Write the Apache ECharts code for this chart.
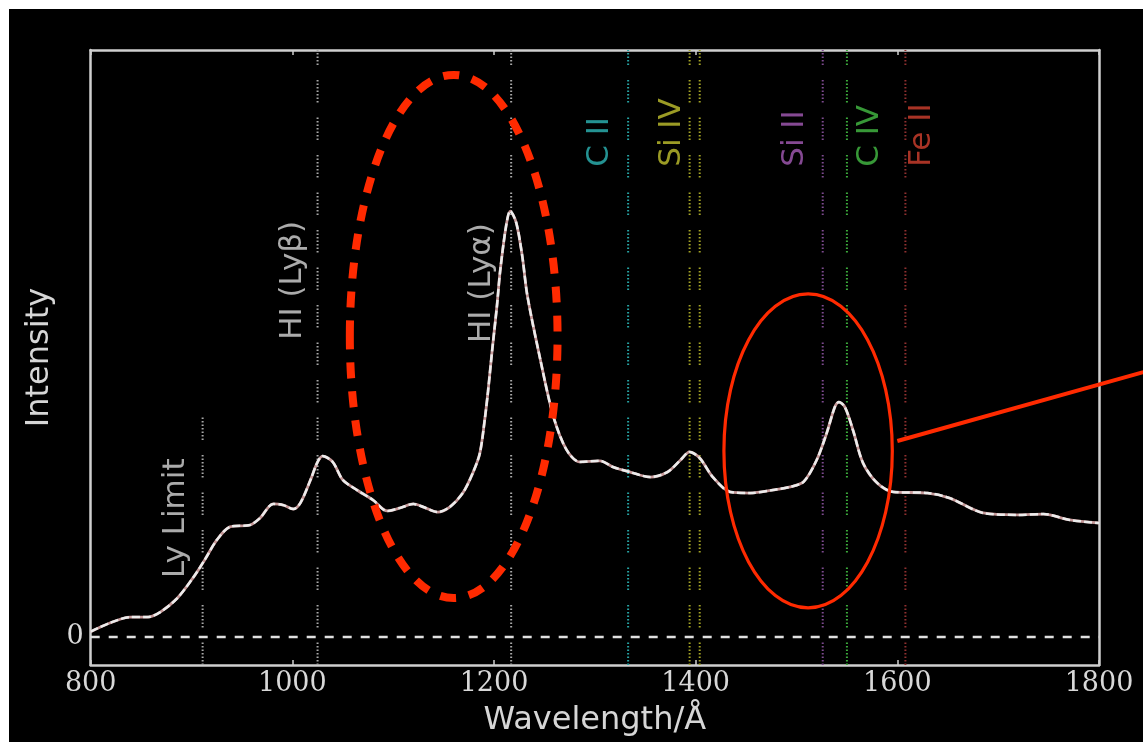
<!DOCTYPE html>
<html>
<head>
<meta charset="utf-8">
<script src="https://cdn.jsdelivr.net/npm/echarts@6/dist/echarts.min.js"></script>
<style>
  html, body { margin: 0; padding: 0; background: #ffffff; }
  #chart { position: absolute; left: 9px; top: 9px; width: 1134px; height: 733px; }
</style>
</head>
<body>
<div id="chart"></div>
<script>
// Composite quasar spectrum: rest wavelength (Å) and relative intensity
const wavelength = [800, 819, 839, 856, 869, 886, 902, 913, 925, 938, 958, 968, 981, 991, 1001, 1008,
  1018, 1025, 1030, 1040, 1050, 1064, 1080, 1094, 1107, 1120, 1130, 1144, 1156, 1169, 1179, 1186,
  1191, 1194, 1198, 1203, 1206, 1212, 1216, 1222, 1228, 1233, 1246, 1259, 1272, 1285, 1305, 1318,
  1335, 1355, 1372, 1385, 1394, 1404, 1417, 1434, 1454, 1477, 1494, 1507, 1520, 1530, 1538, 1542,
  1548, 1556, 1566, 1580, 1596, 1630, 1652, 1685, 1719, 1745, 1771, 1800];
const intensity = [0.019, 0.050, 0.071, 0.071, 0.089, 0.139, 0.214, 0.275, 0.346, 0.393, 0.400, 0.425,
  0.475, 0.471, 0.457, 0.479, 0.561, 0.625, 0.646, 0.625, 0.561, 0.525, 0.489, 0.450, 0.461, 0.475,
  0.464, 0.446, 0.464, 0.514, 0.586, 0.657, 0.782, 0.875, 1.018, 1.186, 1.304, 1.468, 1.521, 1.480,
  1.360, 1.220, 0.989, 0.786, 0.668, 0.625, 0.629, 0.607, 0.589, 0.571, 0.589, 0.632, 0.661, 0.639,
  0.571, 0.518, 0.514, 0.525, 0.536, 0.554, 0.632, 0.729, 0.821, 0.839, 0.821, 0.739, 0.621, 0.550,
  0.518, 0.514, 0.496, 0.443, 0.436, 0.439, 0.418, 0.407];

// Emission / absorption features (Å)
const featureWavelengths = [911, 1025, 1217, 1333, 1394, 1404, 1526, 1550, 1608];
const featureColors = ['#a8a8a8', '#a8a8a8', '#a8a8a8', '#26a3a3', '#a3a325', '#7d4a8f', '#3cab3c', '#8f3030'];
const featureColorIndex = [0, 1, 2, 3, 4, 4, 5, 6, 7];
// Ly limit marker only rises to this intensity
const lyLimitTop = 0.818;

// Feature labels and where they sit (Å, intensity)
const labelTexts = ['Ly Limit', 'HI (Lyβ)', 'HI (Lyα)', 'C II', 'Si IV', 'Si II', 'C IV', 'Fe II'];
const labelWavelengths = [884.6, 1000.6, 1188, 1305, 1376, 1498, 1573, 1624];
const labelIntensity = [0.211, 1.061, 1.050, 1.679, 1.679, 1.679, 1.679, 1.679];
const labelColors = ['#d6d6d6', '#d6d6d6', '#d6d6d6', '#2db7b7', '#c2c22e', '#a65bb8', '#45be45', '#d2402e'];

// Highlighted regions: [λmin, λmax, Imin, Imax]
const focusRegions = [[1057, 1263, 0.139, 2.007], [1428, 1595, 0.104, 1.225]];
const pointerEnds = [[1600, 0.70], [1844, 0.946]];

const X_MIN = 800, X_MAX = 1800, Y_MIN = -0.1, Y_MAX = 2.096;

const curve = wavelength.map((w, i) => [w, intensity[i]]);
const dotPattern = [1.5, 2, 1.5, 2, 1.5, 2, 1.5, 2, 1.5, 2, 1.5, 2, 1.5, 15];

const series = [];

// vertical feature markers
featureWavelengths.forEach((w, i) => {
  const top = i === 0 ? lyLimitTop : Y_MAX;
  series.push({
    type: 'line', z: 1, silent: true, showSymbol: false,
    data: [[w, Y_MIN], [w, top]],
    lineStyle: { color: featureColors[featureColorIndex[i]], width: 2, type: dotPattern }
  });
});

// zero reference line
series.push({
  type: 'line', z: 2, silent: true, showSymbol: false,
  data: [[X_MIN, 0], [X_MAX, 0]],
  lineStyle: { color: '#e0e0e0', width: 2.5, type: [9, 9] }
});

// spectrum: tinted base with a light dashed overlay
series.push({
  type: 'line', z: 3, silent: true, showSymbol: false, smooth: 0.3,
  data: curve,
  lineStyle: { color: '#c79a9a', width: 2.8 }
});
series.push({
  type: 'line', z: 4, silent: true, showSymbol: false, smooth: 0.3,
  data: curve,
  lineStyle: { color: '#ececec', width: 2.5, type: [8, 3] }
});

// feature labels
series.push({
  type: 'scatter', z: 5, silent: true, symbolSize: 1,
  itemStyle: { color: 'rgba(0,0,0,0)' },
  data: labelTexts.map((t, i) => ({
    value: [labelWavelengths[i], labelIntensity[i]],
    label: {
      show: true, formatter: t, position: 'inside', rotate: 90,
      align: 'left', verticalAlign: 'middle',
      color: labelColors[i], fontFamily: 'DejaVu Sans', fontSize: 31
    }
  }))
});

const axisColor = '#cfcfcf';
const option = {
  animation: false,
  backgroundColor: '#000000',
  grid: { left: 81.7, right: 44, top: 41, bottom: 77, containLabel: false },
  xAxis: [{
    type: 'value', min: X_MIN, max: X_MAX, interval: 200, position: 'bottom',
    name: 'Wavelength/Å', nameLocation: 'middle', nameGap: 40,
    nameTextStyle: { color: '#d6d6d6', fontFamily: 'DejaVu Sans', fontSize: 32 },
    axisLine: { onZero: false, lineStyle: { color: axisColor, width: 2.5 } },
    axisTick: { inside: true, length: 5, lineStyle: { color: axisColor, width: 1.5 } },
    axisLabel: { color: '#d8d8d8', fontFamily: 'DejaVu Serif', fontSize: 27, margin: 5, formatter: v => String(v) },
    splitLine: { show: false }
  }, {
    type: 'value', min: X_MIN, max: X_MAX, interval: 200, position: 'top',
    axisLine: { onZero: false, lineStyle: { color: axisColor, width: 2.5 } },
    axisTick: { inside: true, length: 5, lineStyle: { color: axisColor, width: 1.5 } },
    axisLabel: { show: false },
    splitLine: { show: false }
  }],
  yAxis: [{
    type: 'value', min: Y_MIN, max: Y_MAX, interval: 0.1, position: 'left',
    name: 'Intensity', nameLocation: 'middle', nameGap: 28, nameRotate: 90,
    nameTextStyle: { color: '#d6d6d6', fontFamily: 'DejaVu Sans', fontSize: 32 },
    axisLine: { show: true, onZero: false, lineStyle: { color: axisColor, width: 2.5 } },
    axisTick: { show: false },
    axisLabel: {
      color: '#d8d8d8', fontFamily: 'DejaVu Serif', fontSize: 27, margin: 7,
      formatter: v => (Math.abs(v) < 1e-9 ? '0' : '')
    },
    splitLine: { show: false }
  }, {
    type: 'value', min: Y_MIN, max: Y_MAX, position: 'right',
    axisLine: { show: true, onZero: false, lineStyle: { color: axisColor, width: 2.5 } },
    axisTick: { show: false }, axisLabel: { show: false }, splitLine: { show: false }
  }],
  series: series
};

const chart = echarts.init(document.getElementById('chart'));
chart.setOption(option);

// Red annotation overlays placed in data space
const toPx = p => chart.convertToPixel({ seriesIndex: 0 }, p);
const graphics = focusRegions.map((r, i) => {
  const a = toPx([r[0], r[3]]);
  const b = toPx([r[1], r[2]]);
  return {
    type: 'ellipse', z: 100,
    shape: { cx: (a[0] + b[0]) / 2, cy: (a[1] + b[1]) / 2, rx: Math.abs(b[0] - a[0]) / 2, ry: Math.abs(b[1] - a[1]) / 2 },
    style: i === 0
      ? { fill: null, stroke: '#ff2a00', lineWidth: 8, lineDash: [16, 13] }
      : { fill: null, stroke: '#ff2a00', lineWidth: 3.2 }
  };
});
const p0 = toPx(pointerEnds[0]);
const p1 = toPx(pointerEnds[1]);
graphics.push({
  type: 'line', z: 100,
  shape: { x1: p0[0], y1: p0[1], x2: p1[0], y2: p1[1] },
  style: { stroke: '#ff2a00', lineWidth: 4 }
});
chart.setOption({ graphic: graphics });
</script>
</body>
</html>
